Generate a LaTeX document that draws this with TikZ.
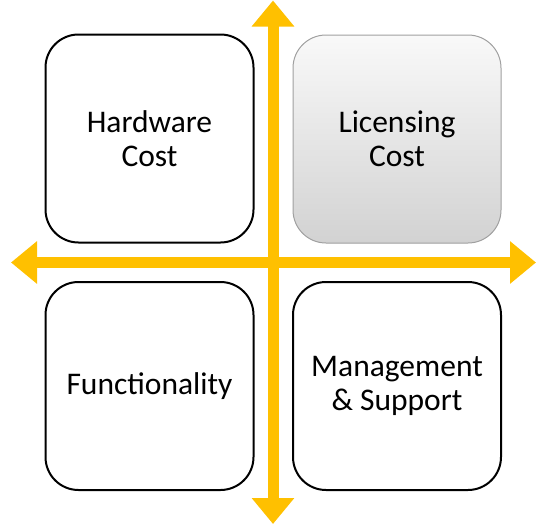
\documentclass[tikz,border=0pt]{standalone}
\usepackage{fontspec}
\setmainfont{Carlito}
\usetikzlibrary{arrows.meta}
\definecolor{axisgold}{RGB}{255,192,0}
\definecolor{graytop}{RGB}{249,249,249}
\definecolor{graybot}{RGB}{210,210,210}
\definecolor{grayline}{RGB}{160,160,160}
\begin{document}
\begin{tikzpicture}[x=1pt,y=-1pt,
  quadbox/.style={draw=black, line width=2pt, rounded corners=33pt,
    minimum width=208pt, minimum height=208pt, inner sep=0pt,
    align=center, font=\fontsize{31.5}{34}\selectfont, fill=white},
  shadedbox/.style={quadbox, draw=grayline, line width=1pt,
    top color=graytop, bottom color=graybot},
  axis/.style={draw=axisgold, line width=11pt,
    {Triangle[width=41pt,length=26pt]}-{Triangle[width=41pt,length=26pt]}}
]
\useasboundingbox (0,0) rectangle (547,525);
\coordinate (top) at (273,0.5);
\coordinate (bottom) at (273,524);
\coordinate (left) at (11,262.5);
\coordinate (right) at (536,262.5);
\draw[axis] (bottom) -- (top);
\draw[axis] (left) -- (right);
\node[quadbox] (hw) at (149.5,138.5) {Hardware\\Cost};
\node[shadedbox] (lic) at (397,139) {Licensing\\Cost};
\node[quadbox] (fn) at (149.5,386) {Functionality};
\node[quadbox] (ms) at (397,386) {Management\\\& Support};
\end{tikzpicture}
\end{document}
